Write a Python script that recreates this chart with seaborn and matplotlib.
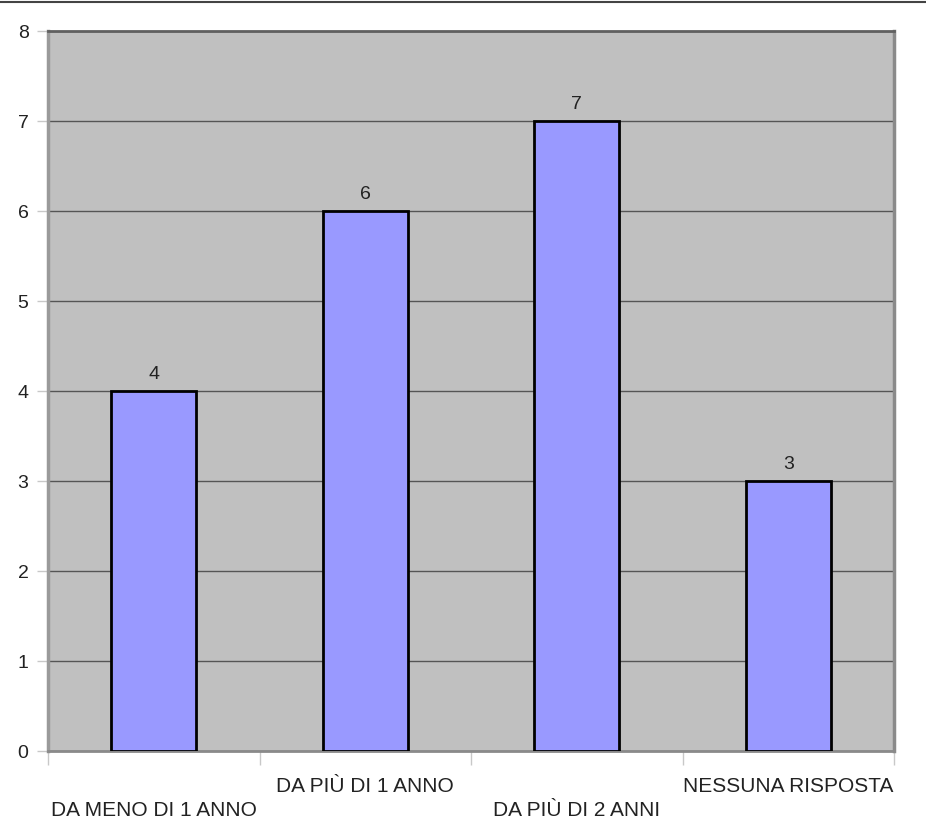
import matplotlib
matplotlib.use("Agg")
import matplotlib.pyplot as plt
import matplotlib.transforms as mtransforms
from matplotlib.lines import Line2D
import pandas as pd
import seaborn as sns

# dati
categorie = ["DA MENO DI 1 ANNO", "DA PIÙ DI 1 ANNO", "DA PIÙ DI 2 ANNI", "NESSUNA RISPOSTA"]
valori = [4, 6, 7, 3]
y_ticks = [0, 1, 2, 3, 4, 5, 6, 7, 8]

df = pd.DataFrame({"categoria": categorie, "valore": valori})

sns.set_theme(style="white")
plt.rcParams["font.family"] = ["Liberation Sans", "DejaVu Sans"]

W, H = 926, 839
fig = plt.figure(figsize=(W / 100, H / 100), dpi=100)
ax = fig.add_axes([48 / W, (H - 751) / H, (894 - 48) / W, (751 - 31) / H])
ax.set_facecolor("#C0C0C0")

sns.barplot(data=df, x="categoria", y="valore", color="#9999FF", saturation=1,
            edgecolor="black", linewidth=2, width=0.4, ax=ax, zorder=3)

ax.set_xlim(-0.5, len(categorie) - 0.5)
ax.set_ylim(0, 8)
ax.set_yticks(y_ticks)
ax.yaxis.grid(True, color="#555555", linewidth=1, zorder=0)
ax.set_axisbelow(True)
ax.set_xlabel("")
ax.set_ylabel("")

# etichette valori sopra le barre
ax.bar_label(ax.containers[0], labels=[str(v) for v in valori], padding=6,
             fontsize=14, color="#222222")

# tick x: confini categorie (minor) e etichette sfalsate (major)
ax.set_xticks([i - 0.5 for i in range(len(categorie) + 1)], minor=True)
ax.set_xticks(range(len(categorie)))
ax.set_xticklabels(categorie, fontsize=15, color="#222222")
ax.tick_params(axis="x", which="major", length=0, pad=19)
ax.tick_params(axis="x", which="minor", length=10, width=1, color="#C8C8C8", bottom=True)
ax.tick_params(axis="y", length=8, width=1, color="#C8C8C8", pad=6,
               labelsize=14, labelcolor="#222222", left=True)

shift = mtransforms.ScaledTranslation(0, -24 / 100, fig.dpi_scale_trans)
for i, lab in enumerate(ax.get_xticklabels()):
    if i % 2 == 0:
        lab.set_transform(lab.get_transform() + shift)

# bordi
ax.spines["top"].set_color("#606060")
ax.spines["top"].set_linewidth(2)
ax.spines["left"].set_color("#9A9A9A")
ax.spines["left"].set_linewidth(2.5)
ax.spines["right"].set_color("#8A8A8A")
ax.spines["right"].set_linewidth(2.5)
ax.spines["bottom"].set_color("#8A8A8A")
ax.spines["bottom"].set_linewidth(2)

# linea in cima all'immagine
fig.add_artist(Line2D([0, 1], [1 - 1.5 / H, 1 - 1.5 / H], transform=fig.transFigure,
                      color="#444444", linewidth=1.5))

fig.savefig("out.png", dpi=100, facecolor="white")
